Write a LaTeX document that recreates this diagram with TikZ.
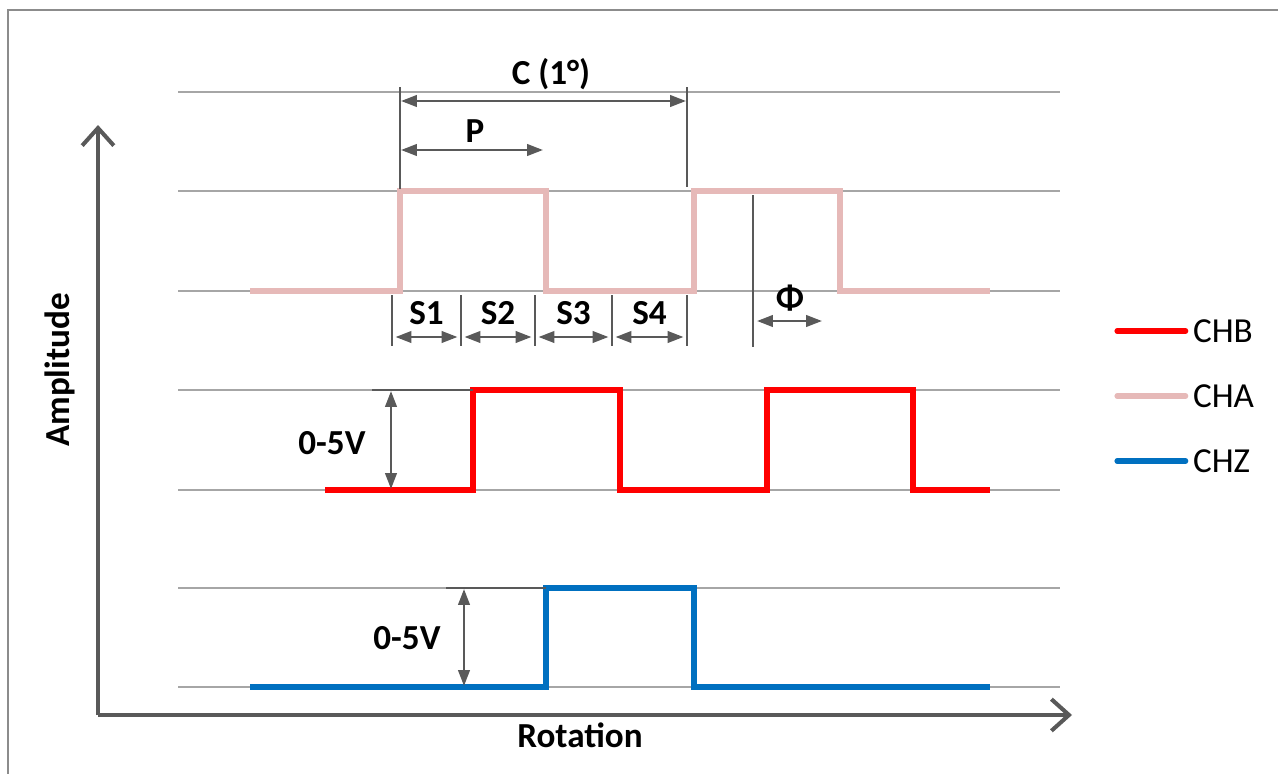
\documentclass[tikz,border=0pt]{standalone}
\usepackage{fontspec}
\setmainfont{Carlito}
\usetikzlibrary{arrows.meta,calc}

\definecolor{chaPink}{HTML}{E6B9B8}
\definecolor{chbRed}{HTML}{FF0000}
\definecolor{chzBlue}{HTML}{0070C0}
\definecolor{darkGray}{HTML}{595959}
\definecolor{gridGray}{HTML}{A6A6A6}
\definecolor{frameGray}{HTML}{8C8C8C}

\tikzset{
    gridline/.style={gridGray,line width=0.6pt},
    axis/.style={darkGray,line width=2.3pt,-{Straight Barb[length=10pt,width=18pt]}},
    signal/.style={line width=2.9pt},
    tick/.style={darkGray,line width=1.1pt},
    dim/.style={darkGray,line width=1.4pt,{Triangle[length=9pt,width=6.5pt]}-{Triangle[length=9pt,width=6.5pt]}},
    lbl/.style={font=\bfseries\fontsize{20}{24}\selectfont,inner sep=1pt},
    leg/.style={font=\fontsize{20}{24}\selectfont,inner sep=1pt}
}

\begin{document}
\begin{tikzpicture}[x=0.02cm,y=-0.02cm]
    \useasboundingbox (0,0) rectangle (1278,774);
    \draw[frameGray,line width=1.7pt] (1280,10) -- (8,10) -- (8,776);

    % Grid lines
    \foreach \y in {92,191,291,390,490,588,687}
        \draw[gridline] (178,\y) -- (1060,\y);

    % Axes
    \coordinate (origin) at (98,715);
    \coordinate (ytop) at (98,125);
    \coordinate (xend) at (1072,715);
    \draw[axis] (origin) -- (ytop);
    \draw[axis] (origin) -- (xend);
    \node[lbl,rotate=90] (amp) at (60,370) {Amplitude};
    \node[lbl] (rot) at (580,735) {Rotation};

    % Signals
    \draw[signal,chaPink] (250,291) -| (400,191) -| (546,291) -| (694,191) -| (840,291) -- (990,291);
    \draw[signal,chbRed] (325,490) -| (473,390) -| (620,490) -| (767,390) -| (913,490) -- (990,490);
    \draw[signal,chzBlue] (250,687) -| (546,588) -| (694,687) -- (990,687);

    % Cycle and pulse
    \draw[tick] (400,87) -- (400,189);
    \draw[tick] (687,87) -- (687,187);
    \coordinate (cL) at (401,101);
    \coordinate (cR) at (686,101);
    \coordinate (pR) at (543,150);
    \draw[dim] (cL) -- (cR);
    \draw[dim] (cL |- pR) -- (pR);
    \node[lbl] (cyc) at (551,74) {C (1°)};
    \node[lbl] (pul) at (475,131) {P};

    % States
    \foreach \x [count=\i] in {392,461,535,612,687} {
        \draw[tick] (\x,295) -- (\x,346);
        \coordinate (s\i) at (\x,337);
    }
    \foreach \a/\b/\name in {1/2/S1,2/3/S2,3/4/S3,4/5/S4} {
        \draw[dim,shorten <=2pt,shorten >=2pt] (s\a) -- (s\b);
        \node[lbl] (lab\name) at ($(s\a)!0.5!(s\b)+(0,-24)$) {\name};
    }

    % Phase
    \draw[tick] (753,195) -- (753,347);
    \coordinate (phL) at (757,321);
    \coordinate (phR) at (822,321);
    \draw[dim] (phL) -- (phR);
    \node[lbl] (phi) at (790,298) {Φ};

    % Amplitude markers
    \draw[tick] (372,390) -- (473,390);
    \draw[dim] (391,391) -- (391,489);
    \node[lbl] (voltB) at (332,443) {0-5V};
    \draw[tick] (446,588) -- (546,588);
    \draw[dim] (464,589) -- (464,686);
    \node[lbl] (voltZ) at (407,638) {0-5V};

    % Legend
    \node[leg,anchor=west] (legB) at (1191,331) {CHB};
    \node[leg,anchor=west] (legA) at (1191,396) {CHA};
    \node[leg,anchor=west] (legZ) at (1191,461) {CHZ};
    \draw[signal,line cap=round,chbRed] (1117,331) -- ([xshift=-3pt]legB.west);
    \draw[signal,line cap=round,chaPink] (1117,396) -- ([xshift=-3pt]legA.west);
    \draw[signal,line cap=round,chzBlue] (1117,461) -- ([xshift=-3pt]legZ.west);
\end{tikzpicture}
\end{document}
